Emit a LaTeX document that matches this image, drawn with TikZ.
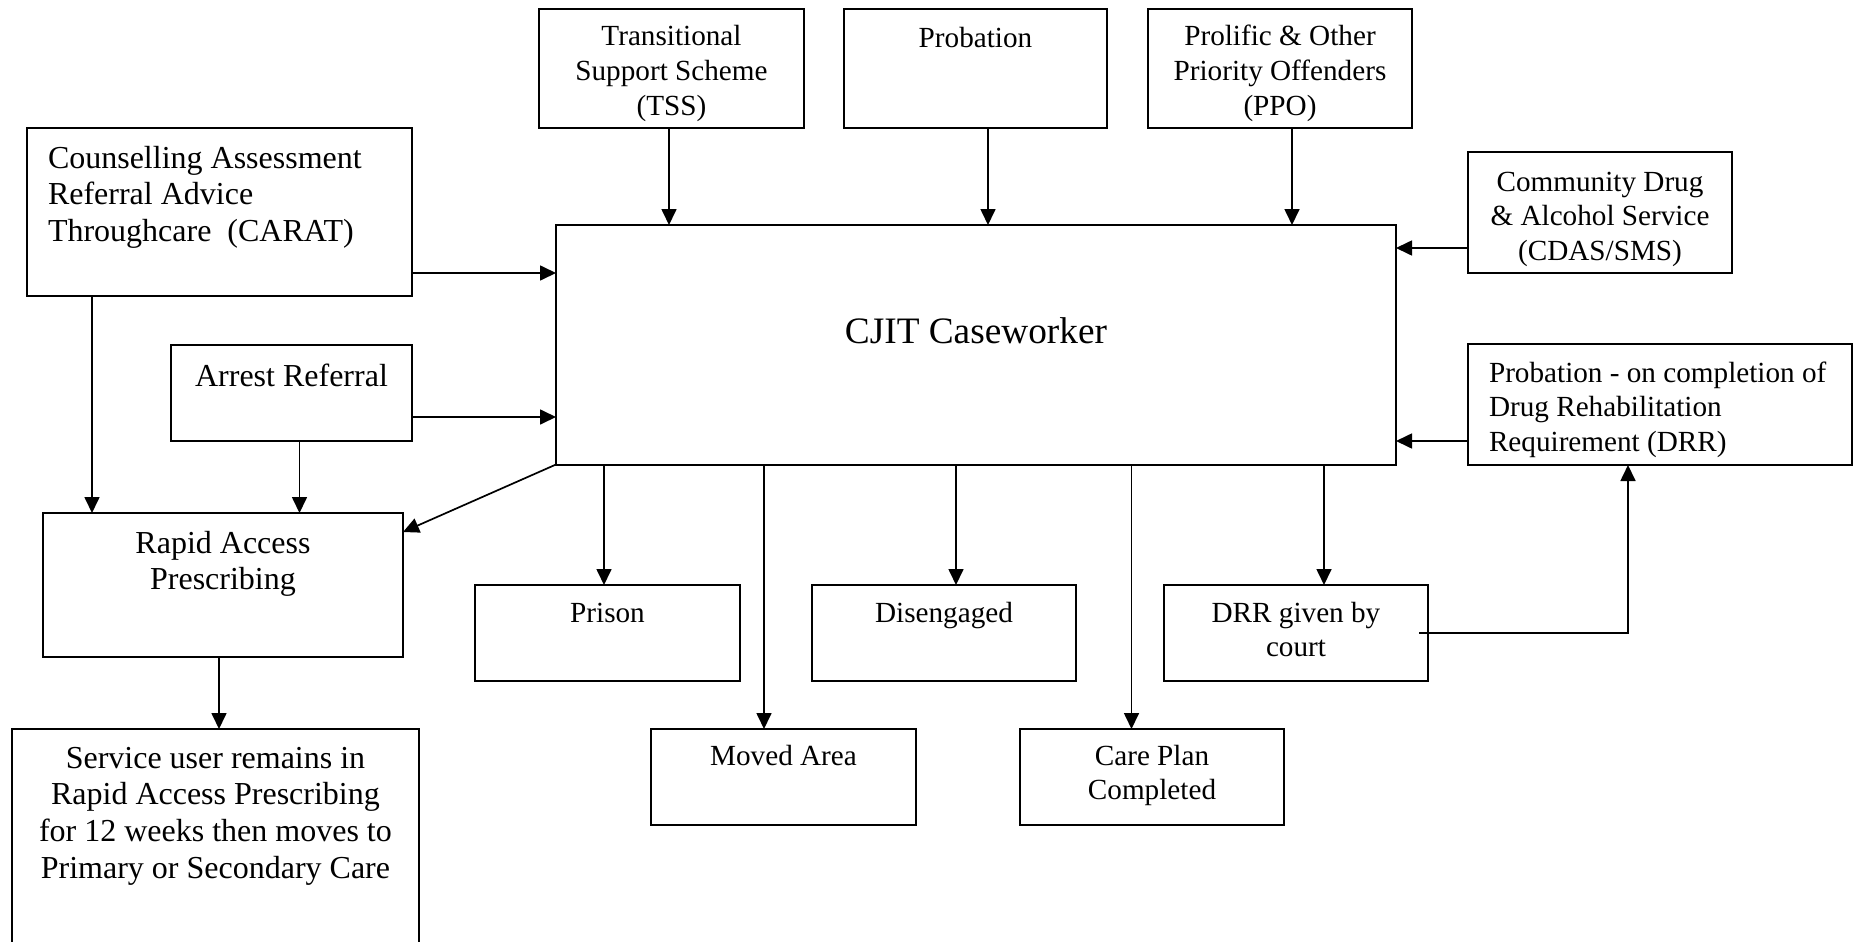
\documentclass[tikz,border=0pt]{standalone}
\usepackage{fontspec}
\setmainfont{Liberation Serif}
\usetikzlibrary{arrows.meta}

% texto de caja: ancho, alto, linea base de la primera linea, texto
\newcommand{\ctext}[4]{\parbox[c][#2pt][t]{#1pt}{\centering\rule{0pt}{#3pt}#4}}
\newcommand{\ltext}[4]{\parbox[c][#2pt][t]{#1pt}{\raggedright\leftskip=21pt\relax\rule{0pt}{#3pt}#4}}

\tikzset{
  box/.style={draw, line width=2pt, inner sep=0pt, outer sep=0pt,
    font=\fontsize{29.2}{34.5}\selectfont},
  bigbox/.style={box, font=\fontsize{32}{36.7}\selectfont},
  arr/.style={-{Triangle[length=16pt,width=15pt]}, line width=1.7pt}
}

\begin{document}
\begin{tikzpicture}[x=1pt, y=-1pt]
  \useasboundingbox (0,0) rectangle (1861,942);
  \clip (0,0) rectangle (1861,942);

  % Cajas de arriba
  \node[box] (tss) at (671.5,68.5) {\ctext{265}{119}{37}{Transitional\\Support Scheme\\(TSS)}};
  \node[box] (prob) at (975.5,68.5) {\ctext{263}{119}{38}{Probation}};
  \node[box] (ppo) at (1280,68.5) {\ctext{264}{119}{37}{Prolific \& Other\\Priority Offenders\\(PPO)}};

  % Caja central
  \node[box, font=\fontsize{37.3}{43}\selectfont] (cjit) at (976,344.75) {\ctext{840}{239.5}{118}{CJIT Caseworker}};

  % Lado izquierdo
  \node[bigbox] (carat) at (219.5,212) {\ltext{385}{168}{40}{Counselling Assessment\\Referral Advice\\Throughcare\ \ (CARAT)}};
  \node[bigbox] (arrest) at (291.5,393) {\ctext{241}{96}{41}{Arrest Referral}};
  \node[bigbox] (rap) at (223,585) {\ctext{360}{144}{40}{Rapid Access\\Prescribing}};
  \node[bigbox] (service) at (215.5,854.5) {\ctext{407}{251}{39}{Service user remains in\\Rapid Access Prescribing\\for 12 weeks then moves to\\Primary or Secondary Care}};

  % Lado derecho
  \node[box] (cdas) at (1600,212.5) {\ctext{264}{121}{39}{Community Drug\\\& Alcohol Service\\(CDAS/SMS)}};
  \node[box] (drr) at (1660,404.5) {\ltext{384}{121}{38}{Probation - on completion of\\Drug Rehabilitation\\Requirement (DRR)}};

  % Salidas
  \node[box] (prison) at (607.5,633) {\ctext{265}{96}{37}{Prison}};
  \node[box] (diseng) at (944,633) {\ctext{264}{96}{37}{Disengaged}};
  \node[box] (drrcourt) at (1296,633) {\ctext{264}{96}{37}{DRR given by\\court}};
  \node[box] (moved) at (783.5,777) {\ctext{265}{96}{36}{Moved Area}};
  \node[box] (care) at (1152,777) {\ctext{264}{96}{36}{Care Plan\\Completed}};

  % Flechas de arriba
  \draw[arr] ([xshift=-2.5pt]tss.south) coordinate (t1) -- (t1 |- cjit.north);
  \draw[arr] ([xshift=12.5pt]prob.south) coordinate (t2) -- (t2 |- cjit.north);
  \draw[arr] ([xshift=12pt]ppo.south) coordinate (t3) -- (t3 |- cjit.north);

  % Flechas laterales
  \draw[arr] ([yshift=23pt]carat.south east) coordinate (l1) -- (l1 -| cjit.west);
  \draw[arr] ([yshift=24pt]arrest.south east) coordinate (l2) -- (l2 -| cjit.west);
  \draw[arr] ([yshift=25pt]cdas.south west) coordinate (r1) -- (r1 -| cjit.east);
  \draw[arr] ([yshift=24pt]drr.south west) coordinate (r2) -- (r2 -| cjit.east);

  % Hacia Rapid Access Prescribing
  \draw[arr] ([xshift=65pt]carat.south west) coordinate (a1) -- (a1 |- rap.north);
  \draw[arr] ([xshift=8pt]arrest.south) coordinate (a2) -- (a2 |- rap.north);
  \draw[arr] (cjit.south west) -- ([yshift=-19pt]rap.north east);
  \draw[arr] ([xshift=-4pt]rap.south) coordinate (a3) -- (a3 |- service.north);

  % Flechas de abajo
  \draw[arr] ([xshift=-3.5pt]prison.north) coordinate (b1) (b1 |- cjit.south) -- (b1);
  \draw[arr] ([xshift=-19.5pt]moved.north) coordinate (b2) (b2 |- cjit.south) -- (b2);
  \draw[arr] ([xshift=12pt]diseng.north) coordinate (b3) (b3 |- cjit.south) -- (b3);
  \draw[arr] ([xshift=-20.5pt]care.north) coordinate (b4) (b4 |- cjit.south) -- (b4);
  \draw[arr] ([xshift=28pt]drrcourt.north) coordinate (b5) (b5 |- cjit.south) -- (b5);

  % DRR dado por el juzgado
  \draw[arr] ([xshift=-9pt]drrcourt.east) -| ([xshift=-32pt]drr.south);
\end{tikzpicture}
\end{document}
